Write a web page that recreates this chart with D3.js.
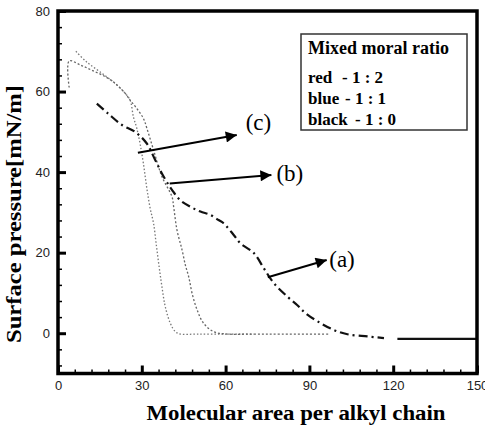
<!DOCTYPE html>
<html>
<head>
<meta charset="utf-8">
<script src="https://cdn.jsdelivr.net/npm/d3@7"></script>
<style>
  html, body { margin: 0; padding: 0; background: #fff; }
  svg { display: block; }
  .serif { font-family: "Liberation Serif", "Times New Roman", Times, serif; }
  .sans { font-family: "Liberation Sans", Arial, Helvetica, sans-serif; }
</style>
</head>
<body>
<svg id="chart" width="485" height="427"></svg>
<script>
// Isotherm (a): dash-dot trace
const aX = [13.9, 18, 22.9, 27.6, 31.8, 34.8, 37.8, 40.8, 43.8, 47.4, 51, 54.5, 57.5, 59.3, 62.9, 65.3, 70.1, 73.7, 77.3, 82.1, 85.6, 88.6, 94, 98.8, 103.6, 110.8, 116.7];
const aY = [57, 54.5, 51.7, 50, 47.1, 43, 38.9, 35.6, 33, 31.4, 30.2, 29.4, 28.1, 27.3, 24.4, 22.3, 19.9, 16.1, 12.4, 9.1, 7, 5, 2.5, 0.8, -0.25, -0.8, -1.2];
// Isotherm (a): solid tail at large area
const aTailX = [121.5, 150];
const aTailY = [-1.4, -1.4];
// Isotherm (b): middle dotted trace
const bX = [4, 4, 8, 12.1, 16.9, 20.5, 24, 25.8, 28.2, 30.6, 31.8, 34.2, 37.2, 40.8, 41.4, 42.6, 44.4, 45.6, 46.8, 48, 49.8, 52.1, 55.7, 60.5, 70, 80, 97];
const bY = [61, 67.6, 66.6, 65.3, 63.7, 62, 59.6, 57.9, 55.8, 53.3, 50.9, 45.5, 38.9, 33.9, 31.4, 25.6, 20.7, 16.9, 14, 9.9, 5.8, 2.5, 0.4, -0.2, -0.2, -0.2, -0.2];
// Isotherm (c): steepest dotted trace
const cX = [6.4, 10, 15, 20.5, 24, 25.8, 27, 28.2, 29.4, 30.6, 31.8, 33, 34.2, 35.2, 36.2, 37.2, 38.4, 40.2, 42, 43.8, 50, 60, 70];
const cY = [70, 67.5, 64.9, 62, 59.6, 57.9, 53.7, 50.9, 47, 42, 36, 31, 27.3, 21.9, 16.5, 11.6, 6.6, 2.5, 0.4, -0.2, -0.2, -0.2, -0.2];

// Axis ticks
const xTicks = [0, 30, 60, 90, 120, 150];
const yTicks = [0, 20, 40, 60, 80];

// Annotation arrows: start point, tip, label
const arrowNames = ["(c)", "(b)", "(a)"];
const arrowFromX = [28.6, 40, 75.1];
const arrowFromY = [44.8, 37.2, 13.9];
const arrowToX = [64, 76.4, 96.2];
const arrowToY = [49.2, 39.3, 18.2];
const labelX = [67.2, 78.2, 97.1];
const labelY = [52.4, 39.6, 18.2];

// Legend
const legendTitle = "Mixed moral ratio";
const legendNames = ["red", "blue", "black"];
const legendRatios = ["- 1 : 2", "- 1 : 1", "- 1 : 0"];

const svg = d3.select("#chart");
const x = d3.scaleLinear().domain([0, 150]).range([58, 477]);
const y = d3.scaleLinear().domain([-10, 80]).range([373.5, 11]);

const zip = (xs, ys) => xs.map((v, i) => [v, ys[i]]);
const line = d3.line().x(d => x(d[0])).y(d => y(d[1])).curve(d3.curveCatmullRom.alpha(0.5));

// Curves
svg.append("path").datum(zip(cX, cY)).attr("d", line)
  .attr("fill", "none").attr("stroke", "#777").attr("stroke-width", 1.3)
  .attr("stroke-dasharray", "1.5,2");
svg.append("path").datum(zip(bX, bY)).attr("d", line)
  .attr("fill", "none").attr("stroke", "#666").attr("stroke-width", 1.3)
  .attr("stroke-dasharray", "2,2");
svg.append("path").datum(zip(aX, aY)).attr("d", line)
  .attr("fill", "none").attr("stroke", "#111").attr("stroke-width", 2.2)
  .attr("stroke-dasharray", "9,4,2,4");
svg.append("path").datum(zip(aTailX, aTailY)).attr("d", line)
  .attr("fill", "none").attr("stroke", "#111").attr("stroke-width", 2.2);

// Frame
svg.append("rect").attr("x", x(0)).attr("y", y(80))
  .attr("width", x(150) - x(0)).attr("height", y(-10) - y(80))
  .attr("fill", "none").attr("stroke", "#000").attr("stroke-width", 3.5);

// Axes with inward ticks
const xMinor = d3.range(0, 151, 6).filter(v => !xTicks.includes(v));
const yMinor = d3.range(-8, 81, 4).filter(v => !yTicks.includes(v));

svg.append("g").attr("transform", `translate(0,${y(-10)})`)
  .call(d3.axisBottom(x).tickValues(xMinor).tickSize(-4).tickFormat(""))
  .call(g => g.select(".domain").remove())
  .call(g => g.selectAll("line").attr("stroke-width", 1.5));
svg.append("g").attr("transform", `translate(0,${y(-10)})`)
  .call(d3.axisBottom(x).tickValues(xTicks).tickSize(-8).tickPadding(7))
  .call(g => g.select(".domain").remove())
  .call(g => g.selectAll("line").attr("stroke-width", 3))
  .call(g => g.selectAll("text").attr("class", "sans").attr("font-family", null)
    .attr("font-size", 13).attr("fill", "#222"));

svg.append("g").attr("transform", `translate(${x(0)},0)`)
  .call(d3.axisLeft(y).tickValues(yMinor).tickSize(-4).tickFormat(""))
  .call(g => g.select(".domain").remove())
  .call(g => g.selectAll("line").attr("stroke-width", 1.5));
svg.append("g").attr("transform", `translate(${x(0)},0)`)
  .call(d3.axisLeft(y).tickValues(yTicks).tickSize(-8).tickPadding(8))
  .call(g => g.select(".domain").remove())
  .call(g => g.selectAll("line").attr("stroke-width", 3))
  .call(g => g.selectAll("text").attr("class", "sans").attr("font-family", null)
    .attr("font-size", 13).attr("fill", "#222"));
svg.selectAll("g[font-family]").attr("font-family", null);

// Axis titles
svg.append("text").attr("class", "serif").attr("x", 296).attr("y", 420).attr("text-anchor", "middle")
  .attr("font-weight", "bold").attr("font-size", 20)
  .attr("textLength", 299).attr("lengthAdjust", "spacingAndGlyphs")
  .text("Molecular area per alkyl chain");
svg.append("text").attr("class", "serif").attr("transform", "translate(21,214) rotate(-90)").attr("text-anchor", "middle")
  .attr("font-weight", "bold").attr("font-size", 20)
  .attr("textLength", 258).attr("lengthAdjust", "spacingAndGlyphs")
  .text("Surface pressure[mN/m]");

// Arrows
const defs = svg.append("defs");
defs.append("marker").attr("id", "head").attr("viewBox", "0 0 10 10")
  .attr("refX", 10).attr("refY", 5).attr("markerWidth", 7.5).attr("markerHeight", 5.5)
  .attr("markerUnits", "strokeWidth").attr("orient", "auto")
  .append("path").attr("d", "M0,0 L10,5 L0,10 Z").attr("fill", "#000");

arrowNames.forEach((name, i) => {
  svg.append("line")
    .attr("x1", x(arrowFromX[i])).attr("y1", y(arrowFromY[i]))
    .attr("x2", x(arrowToX[i])).attr("y2", y(arrowToY[i]))
    .attr("stroke", "#000").attr("stroke-width", 2)
    .attr("marker-end", "url(#head)");
  svg.append("text").attr("class", "serif").attr("x", x(labelX[i])).attr("y", y(labelY[i]))
    .attr("dominant-baseline", "central")
    .attr("font-size", 23).text(name);
});

// Legend box
const lg = svg.append("g");
lg.append("rect").attr("x", 301).attr("y", 34).attr("width", 166).attr("height", 96)
  .attr("fill", "#fff").attr("stroke", "#333").attr("stroke-width", 1.5);
lg.append("text").attr("class", "serif").attr("x", 308).attr("y", 54)
  .attr("font-weight", "bold").attr("font-size", 18).text(legendTitle);
const ratioX = [342, 345, 355];
legendNames.forEach((n, i) => {
  const yy = 83 + i * 21;
  lg.append("text").attr("class", "serif").attr("x", 308).attr("y", yy)
    .attr("font-weight", "bold").attr("font-size", 17).text(n);
  lg.append("text").attr("class", "serif").attr("x", ratioX[i]).attr("y", yy)
    .attr("font-weight", "bold").attr("font-size", 17).text(legendRatios[i]);
});
</script>
</body>
</html>
